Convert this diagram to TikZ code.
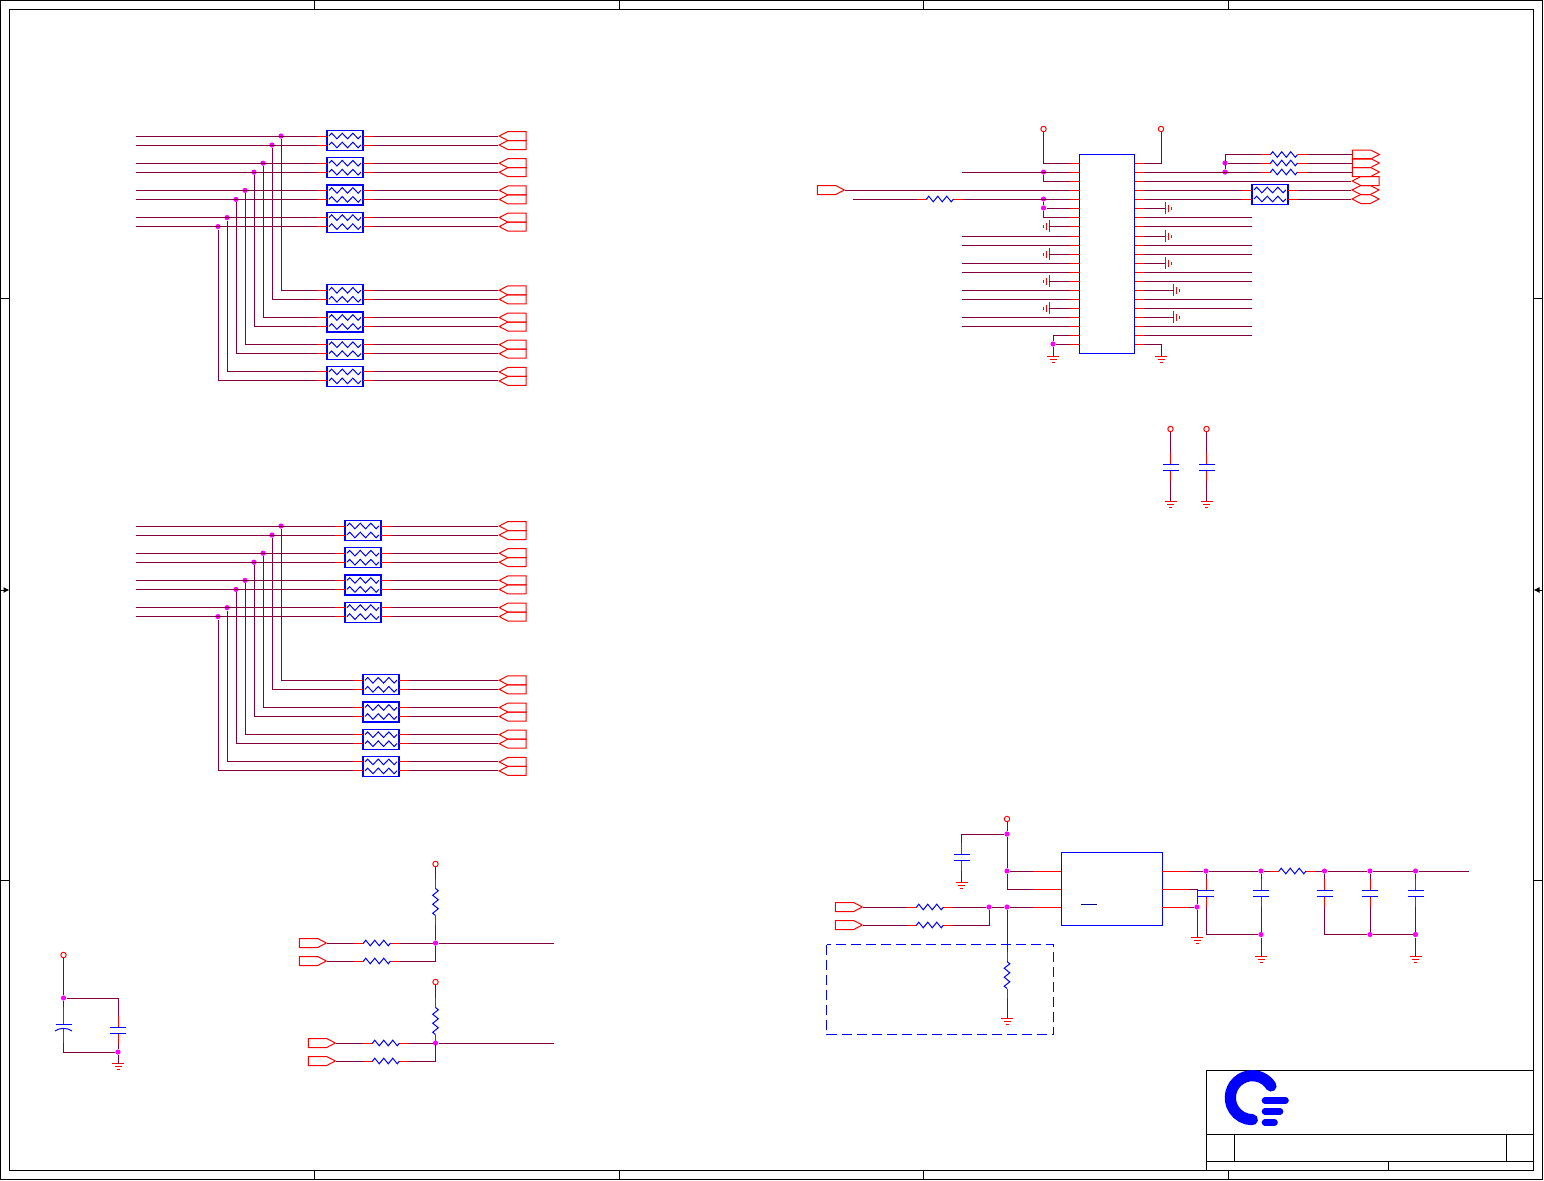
\documentclass[tikz,border=0pt]{standalone}
\usepackage{tikz}
\usetikzlibrary{calc}
\usetikzlibrary{shapes.symbols}
\usetikzlibrary{decorations.pathmorphing}
\usetikzlibrary{arrows.meta}
\definecolor{netc}{RGB}{128,0,64}
\definecolor{partc}{RGB}{0,0,255}
\definecolor{dotc}{RGB}{255,0,255}
\tikzset{
    wire/.style={draw=netc, line width=0.5pt},
    pin/.style={draw=red, line width=0.5pt},
    part/.style={draw=partc, line width=0.5pt},
    frame/.style={draw=black, line width=0.5pt},
    zigr/.style={draw=partc, line width=0.5pt, decorate,
           decoration={zigzag, segment length=4.5pt, amplitude=1.4pt}},
    zigp/.style={draw=partc, line width=0.5pt, decorate,
           decoration={zigzag, segment length=5.3pt, amplitude=1.4pt}},
    packbox/.style={
           rectangle,
           draw=partc, line width=0.6pt,
           minimum width=18pt,
           minimum height=10pt,
           inner sep=0pt,
           },
    icbox/.style={
           rectangle,
           draw=partc, line width=0.5pt,
           inner sep=0pt,
           },
    dot/.style={circle, fill=dotc, inner sep=0pt, minimum size=2.6pt},
    vcc/.style={circle, draw=red, line width=0.5pt, inner sep=0pt, minimum size=2.7pt},
    portbase/.style={
           signal, draw=red, line width=0.5pt,
           signal pointer angle=55,
           inner sep=0pt,
           minimum width=13.5pt,
           minimum height=4.5pt,
           },
    portin/.style={portbase, signal to=east},
    portout/.style={portbase, signal to=west},
    portbi/.style={portbase, signal to=east and west},
    pics/gnd/.style={code={
           \coordinate (-top) at (0,0);
           \draw[pin] (-6,0) -- (6,0);
           \draw[pin] (-3.5,3) -- (3.5,3);
           \draw[pin] (-1.5,6) -- (1.5,6);
           }},
}
% resistor pack: name, left x, first row y
\newcommand{\respack}[3]{%
  \node[packbox] (#1) at (#2+18,#3+4.5) {};
  \foreach \pside/\poff in {a/0,b/9} {
    \coordinate (#1\pside l) at (#2-10,#3+\poff);
    \coordinate (#1\pside r) at (#2+46,#3+\poff);
    \draw[pin] (#1\pside l) -- (#2,#3+\poff);
    \draw[pin] (#2+36,#3+\poff) -- (#1\pside r);
    \draw[zigp] (#2+2,#3+\poff) -- (#2+34,#3+\poff);
  }
}
% resistor: name, centre x, y
\newcommand{\reshor}[3]{%
  \coordinate (#1a) at (#2-23,#3);
  \coordinate (#1b) at (#2+23,#3);
  \draw[pin] (#1a) -- (#2-13.5,#3);
  \draw[pin] (#2+13.5,#3) -- (#1b);
  \draw[zigr] (#2-13.5,#3) -- (#2+13.5,#3);
}
\newcommand{\resver}[3]{%
  \coordinate (#1a) at (#2,#3-23);
  \coordinate (#1b) at (#2,#3+23);
  \draw[pin] (#1a) -- (#2,#3-13.5);
  \draw[pin] (#2,#3+13.5) -- (#1b);
  \draw[zigr] (#2,#3-13.5) -- (#2,#3+13.5);
}
% capacitor: name, x, y of upper plate
\newcommand{\capver}[3]{%
  \coordinate (#1a) at (#2,#3-11);
  \coordinate (#1b) at (#2,#3+17);
  \draw[pin] (#1a) -- (#2,#3);
  \draw[pin] (#2,#3+6) -- (#1b);
  \draw[part] (#2-8,#3) -- (#2+8,#3);
  \draw[part] (#2-8,#3+6) -- (#2+8,#3+6);
}
\begin{document}
\begin{tikzpicture}[x=0.5pt,y=-0.5pt]
      \useasboundingbox (0,0) rectangle (1544,1180);
      % sheet
      \draw[frame] (0.5,0.5) rectangle (1542.5,1179);
      \draw[frame] (9.5,9.5) rectangle (1533.5,1170.5);
      \foreach \tx in {314,619,923,1228} {
        \draw[frame] (\tx,0.5) -- (\tx,9.5);
        \draw[frame] (\tx,1170.5) -- (\tx,1179);
      }
      \foreach \ty in {298,880} {
        \draw[frame] (0.5,\ty) -- (9.5,\ty);
        \draw[frame] (1533.5,\ty) -- (1542.5,\ty);
      }
      \draw[frame, -{Latex[length=3pt,width=3pt]}] (0.5,590) -- (9.5,590);
      \draw[frame, -{Latex[length=3pt,width=3pt]}] (1542.5,590) -- (1533.5,590);
      % title block
      \draw[frame] (1206.5,1170.5) -- (1206.5,1070.5) -- (1533.5,1070.5);
      \draw[frame] (1206.5,1134.5) -- (1533.5,1134.5);
      \draw[frame] (1206.5,1161.5) -- (1533.5,1161.5);
      \draw[frame] (1234.5,1134.5) -- (1234.5,1161.5);
      \draw[frame] (1506.5,1134.5) -- (1506.5,1161.5);
      \draw[frame] (1388.5,1161.5) -- (1388.5,1170.5);
      \draw[partc, line width=5.6pt, line cap=round] (1271,1086) arc[start angle=32, end angle=270, radius=11pt];
      \draw[partc, line width=3.3pt, line cap=round] (1265,1100.5) -- (1285.5,1100.5);
      \draw[partc, line width=3.3pt, line cap=round] (1265,1111.5) -- (1280,1111.5);
      \draw[partc, line width=3.3pt, line cap=round] (1265,1122.5) -- (1274.5,1122.5);

      % the two banks of resistor packs
      \foreach \grp/\upx/\lowx/\topy in {t/327/327/136, m/345/363/526} {
        \foreach \idx in {0,...,3} {
          \pgfmathsetmacro{\ya}{\topy+27.2*\idx}
          \pgfmathsetmacro{\yb}{\ya+154.3}
          \respack{\grp u\idx}{\upx}{\ya}
          \respack{\grp d\idx}{\lowx}{\yb}
          \foreach \row/\dy in {a/0,b/9} {
            \pgfmathsetmacro{\jx}{281-18*\idx-\dy}
            \node[dot] (\grp j\idx\row) at (\jx,\ya+\dy) {};
            \coordinate (\grp s\idx\row) at (136,\ya+\dy);
            \node[portout] (\grp pu\idx\row) at (517,\ya+\dy) {};
            \node[portout] (\grp pd\idx\row) at (517,\yb+\dy) {};
            \draw[wire] (\grp s\idx\row) -- (\grp u\idx\row l);
            \draw[wire] (\grp j\idx\row) |- (\grp d\idx\row l);
            \draw[wire] (\grp u\idx\row r) -- (\grp pu\idx\row.west);
            \draw[wire] (\grp d\idx\row r) -- (\grp pd\idx\row.west);
          }
        }
      }

      % connector chip
      \node[icbox, minimum width=27.5pt, minimum height=99.5pt] (chip) at (1107,253.5) {};
      \foreach \n/\y in {1/163,2/172,3/181,4/190,5/199,6/208,7/217,8/226,9/236,10/245,11/254,
                         12/263,13/272,14/281,15/290,16/299,17/308,18/317,19/326,20/335,21/344} {
        \coordinate (cl\n) at (1070,\y);
        \coordinate (cr\n) at (1144,\y);
        \draw[pin] (cl\n) -- (1079.5,\y);
        \draw[pin] (1134.5,\y) -- (cr\n);
      }
      % chip, left side
      \node[vcc] (vcca) at (1043.5,129) {};
      \node[vcc] (vccb) at (1161,129) {};
      \draw[wire] (vcca) |- (cl1);
      \draw[wire] (vccb) |- (cr1);
      \node[dot] (ja) at (1043.5,172) {};
      \node[dot] (jb) at (1043.5,199) {};
      \node[dot] (jc) at (1043.5,208) {};
      \coordinate (na) at (962,172);
      \draw[wire] (na) -- (cl2);
      \draw[wire] (ja) |- (cl3);
      \node[portin] (pen) at (826.5,190) {};
      \draw[wire] (pen.east) -- (cl4);
      \coordinate (nb) at (853,199);
      \reshor{rchip}{940}{199}
      \draw[wire] (nb) -- (rchipa);
      \draw[wire] (rchipb) -- (cl5);
      \draw[wire] (jb) -- (jc);
      \draw[wire] (jc) -- (cl6);
      \draw[wire] (jc) |- (cl7);
      \foreach \n/\y in {8/226,11/254,14/281,17/308} {
        \pic[rotate=-90] (gl\n) at (1049,\y) {gnd};
        \draw[wire] (gl\n-top) -- (cl\n);
      }
      \foreach \n/\y in {9/236,10/245,12/263,13/272,15/290,16/299,18/317,19/326} {
        \coordinate (nl\n) at (962,\y);
        \draw[wire] (nl\n) -- (cl\n);
      }
      \node[dot] (jd) at (1053,344) {};
      \pic (gchipa) at (1053,356) {gnd};
      \draw[wire] (cl20) -| (jd);
      \draw[wire] (jd) -- (cl21);
      \draw[wire] (jd) -- (gchipa-top);
      % chip, right side
      \pic (gchipb) at (1161,356) {gnd};
      \draw[wire] (cr21) -| (gchipb-top);
      \node[dot] (je) at (1225,163) {};
      \node[dot] (jf) at (1225,172) {};
      \foreach \n/\y in {a/154.5,b/163,c/172} {
        \reshor{rt\n}{1284}{\y}
        \node[portin] (pt\n) at (1361.5,\y) {};
        \draw[wire] (rt\n b) -- (pt\n.west);
      }
      \draw[wire] (cr2) -- (rtca);
      \draw[wire] (je) -- (rtba);
      \draw[wire] (jf) |- (rtaa);
      \node[portout] (pfl) at (1370,181) {};
      \draw[wire] (cr3) -- (pfl.west);
      \respack{rpc}{1252}{190}
      \node[portbi] (pda) at (1365.5,190) {};
      \node[portbi] (pdb) at (1365.5,199) {};
      \draw[wire] (cr4) -- (rpcal);
      \draw[wire] (cr5) -- (rpcbl);
      \draw[wire] (rpcar) -- (pda.west);
      \draw[wire] (rpcbr) -- (pdb.west);
      \foreach \n/\y/\gx in {6/208/1165,9/236/1165,12/263/1165,15/290/1173.5,18/317/1173.5} {
        \pic[rotate=90] (gr\n) at (\gx,\y) {gnd};
        \draw[wire] (cr\n) -- (gr\n-top);
      }
      \foreach \n/\y in {7/217,8/226,10/245,11/254,13/272,14/281,16/299,17/308,19/326,20/335} {
        \coordinate (nr\n) at (1252,\y);
        \draw[wire] (cr\n) -- (nr\n);
      }

      % chip decoupling
      \foreach \n/\x in {a/1170.5,b/1206.5} {
        \node[vcc] (vd\n) at (\x,429) {};
        \capver{cd\n}{\x}{464}
        \pic (gd\n) at (\x,501) {gnd};
        \draw[wire] (vd\n) -- (cd\n a);
        \draw[wire] (cd\n b) -- (gd\n-top);
      }

      % regulator
      \node[icbox, minimum width=50.5pt, minimum height=36.75pt] (reg) at (1111.5,889) {};
      \draw[draw=blue!50!black, line width=0.5pt] (1081,904.5) -- (1097,904.5);
      \foreach \n/\y in {a/871,b/889,c/907} {
        \coordinate (rl\n) at (1033,\y);
        \coordinate (rr\n) at (1189,\y);
        \draw[pin] (rl\n) -- (1061,\y);
        \draw[pin] (1162,\y) -- (rr\n);
      }
      \node[vcc] (vreg) at (1007,819) {};
      \node[dot] (jra) at (1007,834) {};
      \node[dot] (jrb) at (1007,871) {};
      \node[dot] (jrc) at (1007,907) {};
      \node[dot] (jrd) at (989,907) {};
      \draw[wire] (vreg) -- (jra);
      \draw[wire] (jra) -- (jrb);
      \draw[wire] (jrb) -- (rla);
      \draw[wire] (jrb) |- (rlb);
      \capver{cin}{961.5}{854}
      \draw[wire] (jra) -| (cina);
      \pic (gin) at (961.5,882) {gnd};
      \draw[wire] (cinb) -- (gin-top);
      \foreach \n/\y in {a/907,b/925} {
        \node[portin] (pr\n) at (844.5,\y) {};
        \reshor{rr\n}{930}{\y}
        \draw[wire] (pr\n.east) -- (rr\n a);
      }
      \draw[wire] (rrab) -- (jrd);
      \draw[wire] (jrd) -- (jrc);
      \draw[wire] (jrc) -- (rlc);
      \draw[wire] (rrbb) -| (jrd);
      \resver{rpd}{1007}{975}
      \draw[wire] (jrc) -- (rpda);
      \pic (gpd) at (1007,1018.5) {gnd};
      \draw[wire] (rpdb) -- (gpd-top);
      \draw[part, dashed, dash pattern=on 5pt off 2.5pt] (826.5,944.5) rectangle (1053.5,1034.5);
      % regulator output
      \coordinate (nout) at (1469,871);
      \node[dot] (joa) at (1206,871) {};
      \node[dot] (job) at (1261,871) {};
      \reshor{rout}{1292.5}{871}
      \node[dot] (joc) at (1324.5,871) {};
      \node[dot] (jod) at (1370,871) {};
      \node[dot] (joe) at (1415.5,871) {};
      \draw[wire] (rra) -- (joa);
      \draw[wire] (joa) -- (job);
      \draw[wire] (job) -- (routa);
      \draw[wire] (routb) -- (joc);
      \draw[wire] (joc) -- (jod);
      \draw[wire] (jod) -- (joe);
      \draw[wire] (joe) -- (nout);
      \node[dot] (jof) at (1197,907) {};
      \draw[wire] (rrb) -| (jof);
      \draw[wire] (rrc) -- (jof);
      \pic (gof) at (1197,937) {gnd};
      \draw[wire] (jof) -- (gof-top);
      \node[dot] (jga) at (1261,934.5) {};
      \node[dot] (jgb) at (1370,934.5) {};
      \node[dot] (jgc) at (1415.5,934.5) {};
      \capver{coa}{1206}{890}
      \capver{cob}{1261}{890}
      \capver{coc}{1324.5}{890}
      \capver{cod}{1370}{890}
      \capver{coe}{1415.5}{890}
      \draw[wire] (joa) -- (coaa);
      \draw[wire] (job) -- (coba);
      \draw[wire] (joc) -- (coca);
      \draw[wire] (jod) -- (coda);
      \draw[wire] (joe) -- (coea);
      \draw[wire] (coab) |- (jga);
      \draw[wire] (cobb) -- (jga);
      \draw[wire] (cocb) |- (jgb);
      \draw[wire] (codb) -- (jgb);
      \draw[wire] (jgb) -- (jgc);
      \draw[wire] (coeb) -- (jgc);
      \pic (gga) at (1261,956) {gnd};
      \pic (ggc) at (1415.5,956) {gnd};
      \draw[wire] (jga) -- (gga-top);
      \draw[wire] (jgc) -- (ggc-top);

      % pull-ups
      \foreach \n/\py/\px/\cy/\ya in {a/864/299/902/943,b/982/308/1021/1043} {
        \node[vcc] (vp\n) at (435.5,\py) {};
        \resver{rv\n}{435.5}{\cy}
        \node[dot] (jp\n) at (435.5,\ya) {};
        \node[portin] (pa\n) at (\px+9.5,\ya) {};
        \node[portin] (pb\n) at (\px+9.5,\ya+18) {};
        \reshor{ra\n}{\px+78}{\ya}
        \reshor{rb\n}{\px+78}{\ya+18}
        \coordinate (ne\n) at (554,\ya);
        \draw[wire] (vp\n) -- (rv\n a);
        \draw[wire] (rv\n b) -- (jp\n);
        \draw[wire] (pa\n.east) -- (ra\n a);
        \draw[wire] (pb\n.east) -- (rb\n a);
        \draw[wire] (ra\n b) -- (jp\n);
        \draw[wire] (rb\n b) -| (jp\n);
        \draw[wire] (jp\n) -- (ne\n);
      }

      % bulk capacitors
      \node[vcc] (vblk) at (63.5,955) {};
      \node[dot] (jba) at (63.5,998) {};
      \node[dot] (jbb) at (118,1052) {};
      \draw[wire] (vblk) -- (jba);
      \coordinate (cpa) at (63.5,1007);
      \coordinate (cpb) at (63.5,1043);
      \draw[wire] (jba) -- (cpa);
      \draw[pin] (cpa) -- (63.5,1024);
      \draw[pin] (63.5,1028) -- (cpb);
      \draw[part] (55.5,1024.5) -- (71.5,1024.5);
      \draw[part] (55,1031) .. controls (59,1027.5) and (68,1027.5) .. (72,1031);
      \draw[wire] (cpb) |- (jbb);
      \capver{cbk}{118}{1027}
      \draw[wire] (jba) -| (cbka);
      \draw[wire] (cbkb) -- (jbb);
      \pic (gbk) at (118,1063.5) {gnd};
      \draw[wire] (jbb) -- (gbk-top);
\end{tikzpicture}
\end{document}
